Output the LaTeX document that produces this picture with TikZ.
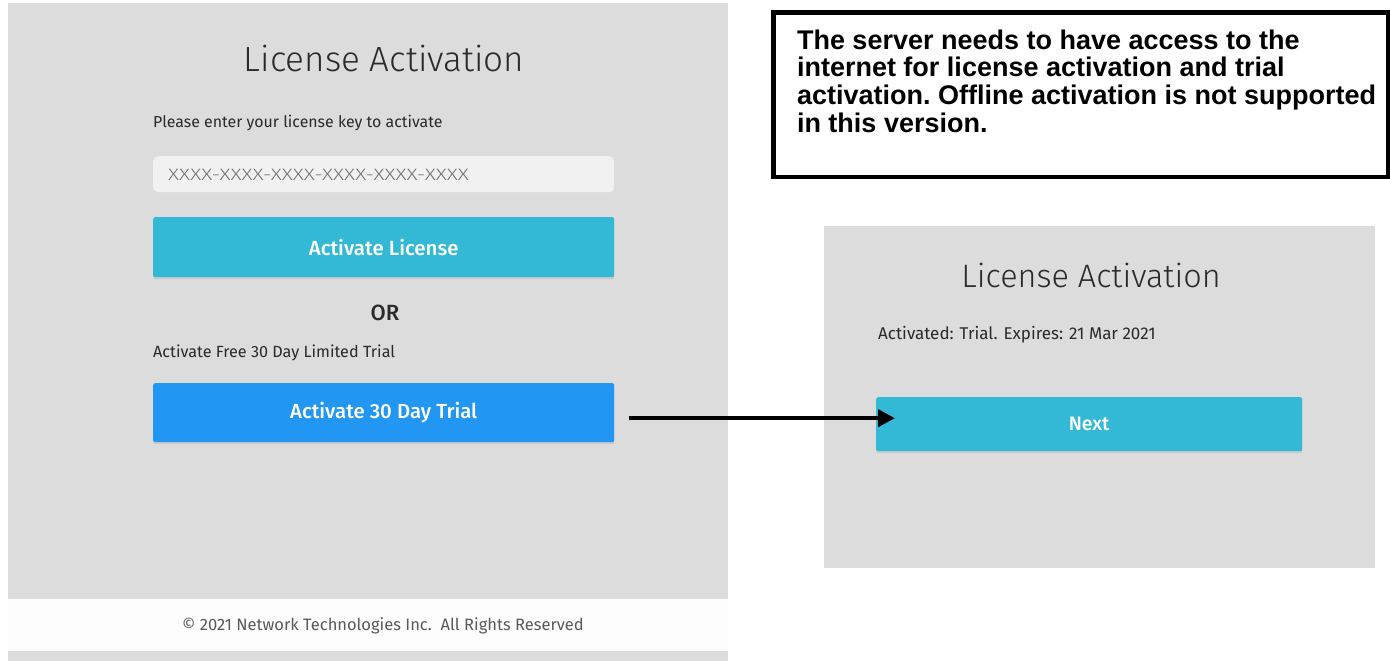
\documentclass[tikz,border=0pt]{standalone}
\usepackage{fontspec}
\setmainfont{Liberation Sans}
\newfontfamily\uifont{Fira Sans}
\newfontfamily\uilight{Fira Sans Light}
\newfontfamily\uimedium{Fira Sans Medium}
\newfontfamily\uiwide[FakeStretch=1.3]{Fira Sans Light}
\usetikzlibrary{arrows.meta,shadows}
\definecolor{panelgray}{HTML}{DCDCDC}
\definecolor{footwhite}{HTML}{FDFDFD}
\definecolor{btnteal}{HTML}{33B9D5}
\definecolor{btnblue}{HTML}{2196F3}
\definecolor{fieldgray}{HTML}{F1F1F1}
\definecolor{inkgray}{HTML}{2A2A2A}

\begin{document}
\begin{tikzpicture}[x=1pt,y=-1pt,
    title/.style={font=\uilight\fontsize{#1}{36}\selectfont,text=inkgray,inner sep=0pt},
    small/.style={font=\uifont\fontsize{#1}{18}\selectfont,text=inkgray,inner sep=0pt},
    btn/.style={fill=#1,text=white,rounded corners=2pt,inner sep=0pt,
        drop shadow={shadow xshift=0pt,shadow yshift=-2pt,opacity=0.18}},
    note/.style={draw=black,line width=4.5pt,fill=white,inner xsep=0pt,inner ysep=17pt,
        font=\bfseries\fontsize{27}{27.8}\selectfont},
    link/.style={line width=4pt,-{Triangle[length=17pt,width=17pt]}}]
    \useasboundingbox (0,0) rectangle (1390,661);
    %%%%% left screen %%%%%
    \fill[panelgray] (8,3) rectangle (728,599);
    \fill[footwhite] (8,599) rectangle (728,651);
    \fill[panelgray] (8,651) rectangle (728,661);
    
    \node[title=35,anchor=base] (ltitle) at (384,71) {License Activation};
    \node[small=15.9,anchor=base west] (prompt) at (153,128) {Please enter your license key to activate};
    
    \node[fill=fieldgray,rounded corners=5pt,anchor=north west,minimum width=461pt,minimum height=36pt] (keyfield) at (153,156) {};
    \node[font=\uiwide\fontsize{16.5}{18}\selectfont,text=black!55,inner sep=0pt,anchor=base west] (keytext) at (168,180) {XXXX-XXXX-XXXX-XXXX-XXXX-XXXX};
    
    \node[btn=btnteal,font=\uimedium\fontsize{20.5}{22}\selectfont,anchor=north west,minimum width=461pt,minimum height=60pt] (license) at (153,217) {Activate License};
    \node[font=\uimedium\fontsize{22}{24}\selectfont,text=inkgray,inner sep=0pt,anchor=base] (or) at (385,320) {OR};
    \node[small=16.2,anchor=base west] (freetrial) at (153,357) {Activate Free 30 Day Limited Trial};
    \node[btn=btnblue,font=\uimedium\fontsize{20.4}{22}\selectfont,anchor=north west,minimum width=461pt,minimum height=59pt] (trial) at (153,383) {Activate 30 Day Trial};
    
    \node[font=\uifont\fontsize{16.5}{18}\selectfont,text=black!65,inner sep=0pt,anchor=base] (footer) at (383,630) {\textcopyright{} 2021 Network Technologies Inc.\ \ All Rights Reserved};
    
    %%%%% note %%%%%
    \node[note,anchor=north west] (note) at (771.25,10.25) {\hspace*{23.5pt}\parbox[t][130.5pt][t]{591pt}{\raggedright\frenchspacing
        The server needs to have access to the\\
        internet for license activation and trial\\
        activation. Offline activation is not supported\\
        in this version.}};
    
    %%%%% right screen %%%%%
    \fill[panelgray] (824,226) rectangle (1375,568);
    \node[title=32.4,anchor=base] (rtitle) at (1091,287) {License Activation};
    \node[small=17,anchor=base west] (status) at (878,339) {Activated: Trial. Expires: 21 Mar 2021};
    \node[btn=btnteal,font=\uimedium\fontsize{19.5}{22}\selectfont,anchor=north west,minimum width=426pt,minimum height=54pt] (next) at (876,397) {Next};
    
    \draw[link] ([xshift=15pt,yshift=-5.5pt]trial.east) -- ([xshift=19pt,yshift=6pt]next.west);
\end{tikzpicture}
\end{document}
